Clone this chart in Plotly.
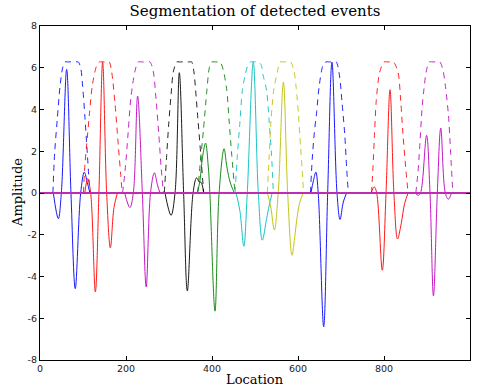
import plotly.graph_objects as go

# ---------------- data ----------------
COLORS = ["#0000ff", "#ff0000", "#bf00bf", "#000000", "#008000",
          "#00bfbf", "#bfbf00", "#0000ff", "#ff0000", "#bf00bf"]

# event signals (solid)
SIG1_X = [31, 42.6, 49.6, 62, 72, 82, 94.6, 103, 110, 116]
SIG1_Y = [0, -1.23, 0, 5.92, 0, -4.58, 0, 1.0, 0.5, 0]
SIG2_X = [104, 111, 117.8, 128.7, 137, 145.7, 155, 163.6, 172, 180]
SIG2_Y = [0, 0.69, 0, -4.74, 0, 6.27, 0, -2.63, -0.7, 0]
SIG3_X = [197, 209, 217, 227, 238, 247, 257, 266, 273, 279]
SIG3_Y = [0, -0.70, 0, 4.64, 0, -4.50, 0, 0.97, 0.4, 0]
SIG4_X = [290.7, 304.7, 314, 324, 334, 342.6, 356, 364, 370, 375, 380.6]
SIG4_Y = [0, -1.07, 0, 5.76, 0, -4.69, 0, 0.72, 0.55, 0.5, 0]
SIG5_X = [366, 372, 378, 385, 391.4, 395, 407, 416.5, 428, 434, 440, 446, 452]
SIG5_Y = [0, 0.6, 1.72, 2.39, 1.24, 0, -5.66, 0, 2.12, 1.33, 0.69, 0.29, 0]
SIG6_X = [456, 465, 474, 482, 496, 507.7, 517, 527, 533, 540]
SIG6_Y = [0, -0.87, -2.55, 0, 6.27, 0, -2.26, -1.23, -0.6, 0]
SIG7_X = [529, 537, 545, 554, 566, 576, 586, 593, 597, 604, 612]
SIG7_Y = [0, -0.72, -1.78, 0, 5.31, 0, -2.98, -2.0, -1.3, -0.45, 0]
SIG8_X = [630, 636, 641.5, 647, 659.7, 669, 679, 690.7, 697.7, 705.4, 713]
SIG8_Y = [0, 0.6, 1.0, 0, -6.41, 0, 6.27, 0, -1.27, -0.43, 0]
SIG9_X = [770, 777.5, 783, 796, 804.7, 814, 823, 831.5, 840, 848, 856]
SIG9_Y = [0, 0.29, 0, -3.70, 0, 4.95, 0, -2.2, -1.47, -0.5, 0]
SIG10_X = [872, 880, 885, 899, 907, 915, 924, 932, 942.6, 949.6, 957]
SIG10_Y = [0, -0.11, 0, 2.76, 0, -4.93, 0, 3.11, 0, -0.30, 0]

# event windows (dashed)
ENV1_X = [30, 34, 40, 46.5, 52.7, 58, 64, 84, 89, 94.6, 99.2, 104.6, 110, 116]
ENV1_Y = [0, 1.9, 3.5, 5.1, 6.0, 6.28, 6.28, 6.28, 6.28, 6.0, 5.1, 3.6, 1.9, 0]
ENV2_X = [101, 104.6, 108.5, 115, 122, 131.8, 138, 144, 155, 161, 166.7, 174.4, 182, 187.6, 191]
ENV2_Y = [0, 1.4, 2.3, 3.8, 5.2, 6.1, 6.28, 6.28, 6.28, 6.28, 5.8, 4.3, 2.3, 0.9, 0]
ENV3_X = [192, 198, 205, 211.6, 221, 228, 234, 250, 256, 263.6, 269.8, 276, 281.4, 287]
ENV3_Y = [0, 1.1, 2.9, 4.6, 5.85, 6.28, 6.28, 6.28, 6.28, 5.8, 4.5, 2.9, 1.3, 0]
ENV4_X = [289, 294.6, 299, 305, 310, 318, 324, 347, 352.7, 358, 362, 367, 374, 380.6]
ENV4_Y = [0, 1.8, 3.2, 4.75, 5.8, 6.28, 6.28, 6.28, 6.28, 5.8, 4.9, 3.6, 1.8, 0]
ENV5_X = [366.7, 372, 380, 387.6, 393.8, 399, 405, 413, 419, 426, 434, 440, 446, 453.5]
ENV5_Y = [0, 1.3, 3.0, 4.8, 6.0, 6.28, 6.28, 6.28, 6.28, 5.9, 5.0, 3.4, 1.8, 0]
ENV6_X = [453.5, 459, 465, 470.5, 477, 484, 490, 502, 508, 514, 519, 527, 533, 538.5, 542.6]
ENV6_Y = [0, 1.8, 3.4, 4.9, 5.63, 6.15, 6.28, 6.28, 6.28, 6.15, 5.63, 4.9, 3.4, 1.8, 0]
ENV7_X = [528.7, 533, 537, 544, 552, 558, 564, 577, 583, 591, 596, 601, 606, 609.5, 613]
ENV7_Y = [0, 1.8, 3.4, 5.0, 5.8, 6.28, 6.28, 6.28, 6.28, 5.8, 5.0, 3.8, 2.2, 1.2, 0]
ENV8_X = [629, 633, 638, 643.5, 649, 658, 665, 671, 683, 689, 697, 702, 708.6, 713, 717]
ENV8_Y = [0, 1.6, 2.9, 3.9, 5.07, 6.11, 6.28, 6.28, 6.28, 6.28, 5.55, 4.43, 2.84, 1.24, 0]
ENV9_X = [771, 774.4, 778, 782, 790, 800, 806, 816, 822, 832.6, 838.8, 844, 850.4, 856]
ENV9_Y = [0, 1.24, 2.84, 4.43, 5.79, 6.28, 6.28, 6.28, 6.28, 5.79, 4.43, 2.84, 1.24, 0]
ENV10_X = [874, 879, 883, 889, 893, 898, 905, 911, 924, 930, 937, 943, 950, 955, 960]
ENV10_Y = [0, 1.0, 2.2, 4.2, 5.0, 5.79, 6.28, 6.28, 6.28, 6.28, 5.9, 5.1, 3.7, 1.9, 0]

X_RANGE = [0, 1000]
Y_RANGE = [-8, 8]
X_TICKS = [0, 200, 400, 600, 800, 1000]
X_TICK_TEXT = ["0", "200", "400", "600", "800", "1000"]
Y_TICKS = [-8, -6, -4, -2, 0, 2, 4, 6, 8]
Y_TICK_TEXT = ["-8", "-6", "-4", "-2", "0", "2", "4", "6", "8"]
BASE_X = [0, 1000]
BASE_Y = [0, 0]

SIGNALS = [(SIG1_X, SIG1_Y), (SIG2_X, SIG2_Y), (SIG3_X, SIG3_Y), (SIG4_X, SIG4_Y),
           (SIG5_X, SIG5_Y), (SIG6_X, SIG6_Y), (SIG7_X, SIG7_Y), (SIG8_X, SIG8_Y),
           (SIG9_X, SIG9_Y), (SIG10_X, SIG10_Y)]
WINDOWS = [(ENV1_X, ENV1_Y), (ENV2_X, ENV2_Y), (ENV3_X, ENV3_Y), (ENV4_X, ENV4_Y),
           (ENV5_X, ENV5_Y), (ENV6_X, ENV6_Y), (ENV7_X, ENV7_Y), (ENV8_X, ENV8_Y),
           (ENV9_X, ENV9_Y), (ENV10_X, ENV10_Y)]

# ---------------- figure ----------------
fig = go.Figure()
for (sx, sy), (ex, ey), col in zip(SIGNALS, WINDOWS, COLORS):
    fig.add_trace(go.Scatter(x=sx, y=sy, mode="lines",
                             line=dict(color=col, width=1.0, shape="spline", smoothing=1.0),
                             opacity=0.9, showlegend=False, hoverinfo="skip"))
    fig.add_trace(go.Scatter(x=ex, y=ey, mode="lines",
                             line=dict(color=col, width=1.0, dash="6px,5px",
                                       shape="spline", smoothing=0.8),
                             opacity=0.85, showlegend=False, hoverinfo="skip"))

fig.add_trace(go.Scatter(x=BASE_X, y=BASE_Y, mode="lines",
                         line=dict(color="#c02cb0", width=2),
                         showlegend=False, hoverinfo="skip"))

axis_common = dict(showgrid=False, zeroline=False, showline=True, linecolor="black",
                   linewidth=1, mirror="ticks", ticks="inside", ticklen=4,
                   tickcolor="black", tickwidth=1,
                   tickfont=dict(family="DejaVu Sans", size=9.5, color="#222"))

fig.update_layout(
    width=478, height=392,
    margin=dict(l=40, r=8, t=26, b=32),
    paper_bgcolor="white", plot_bgcolor="white",
    title=dict(text="Segmentation of detected events", x=0.5, xref="paper",
               y=1 - 11 / 392, yref="container", yanchor="middle", xanchor="center",
               font=dict(family="DejaVu Serif", size=15, color="black")),
    xaxis=dict(range=X_RANGE, tickvals=X_TICKS, ticktext=X_TICK_TEXT, **axis_common),
    yaxis=dict(range=Y_RANGE, tickvals=Y_TICKS, ticktext=Y_TICK_TEXT, **axis_common),
    annotations=[
        dict(text="Location", xref="paper", yref="paper", x=0.5, y=-(379 - 360) / 334,
             xanchor="center", yanchor="middle", showarrow=False,
             font=dict(family="DejaVu Serif", size=13, color="black")),
        dict(text="Amplitude", xref="paper", yref="paper", x=-(40 - 17) / 430, y=0.5,
             xanchor="center", yanchor="middle", showarrow=False, textangle=-90,
             font=dict(family="DejaVu Serif", size=13, color="black")),
    ],
)

fig.write_html("out.html")
